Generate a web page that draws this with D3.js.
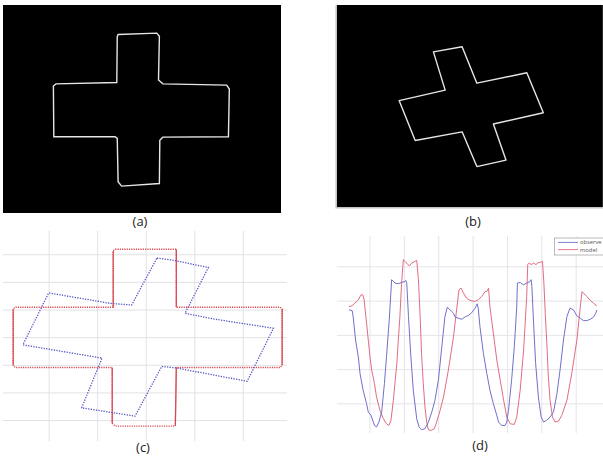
<!DOCTYPE html>
<html><head><meta charset="utf-8">
<script src="https://cdn.jsdelivr.net/npm/d3@7"></script>
<style>html,body{margin:0;padding:0;background:#fff;} svg{display:block}</style>
</head><body>
<svg id="fig" width="603" height="456"></svg>
<script>
// ---- (a), (b): edge images, coordinates in image pixels ----
const frameA = [640, 480];
const frameB = [612, 465];
const crossA = [[265,68],[354,65],[360,72],[358,173],[368,182],[515,185],[521,194],[519,304],[368,305],[361,312],[360,412],[273,418],[265,408],[263,308],[258,304],[117,304],[116,187],[122,182],[262,179],[263,73]];
const crossB = [[222,108],[288,96],[322,180],[437,156],[475,248],[360,274],[389,357],[322,372],[288,292],[180,312],[143,220],[249,196]];

// ---- (c): contour points, model (red) and observed (blue) ----
const gridCX = [100, 200, 300, 400, 500];
const gridCY = [50, 100, 150, 200, 250, 300, 350];
const modelContour = [[236,40],[362,40],[362,145],[576,145],[580,148],[580,250],[576,254],[362,254],[360,360],[236,360],[230,355],[230,254],[30,254],[26,250],[26,148],[30,145],[232,145],[232,43]];
const observedContour = [[322,56],[356,60],[428,73],[380,156],[438,166],[562,183],[508,279],[363,255],[332,252],[277,342],[167,327],[209,237],[46,213],[99,119],[226,138],[270,141]];

// ---- (d): signals over time ----
const gridDX = [100, 200, 300, 400, 500, 600, 700];
const gridDY = [20, 40, 60, 80, 100];
const seriesNames = ["observe", "model"];
const observeSeries = [[39,74.9],[48,74.5],[51,71.0],[58,57.3],[66,47.5],[71,37.7],[80,28.0],[90,20.1],[95,15.3],[103,13.3],[113,7.4],[119,6.5],[126,9.4],[134,15.3],[142,31.9],[148,47.5],[156,69.0],[163,92.5],[168,91.5],[173,90.5],[182,90.1],[192,90.9],[202,91.5],[204,92.1],[207,90.5],[212,71.0],[219,47.5],[226,28.0],[236,11.3],[243,6.5],[250,4.9],[260,5.5],[270,9.4],[280,15.3],[289,22.1],[299,33.8],[309,53.4],[318,71.0],[325,76.4],[333,74.9],[343,72.9],[348,70.6],[357,70.0],[367,69.4],[377,70.8],[386,71.6],[396,73.2],[406,75.9],[412,78.4],[415,75.9],[420,65.1],[430,49.5],[440,37.7],[449,28.0],[459,20.1],[469,13.3],[474,9.4],[483,7.4],[493,7.4],[498,9.4],[503,16.2],[512,33.8],[520,53.4],[527,76.8],[529,90.5],[537,90.9],[546,89.5],[556,90.5],[566,91.5],[569,92.5],[571,88.6],[576,67.1],[582,43.6],[590,24.0],[598,12.3],[605,9.4],[614,10.4],[624,12.3],[634,15.3],[644,26.0],[653,39.7],[663,57.3],[673,71.0],[682,75.9],[692,74.9],[702,71.4],[712,70.0],[721,68.6],[731,68.6],[741,69.4],[750,70.6],[757,72.9],[760,74.9]];
const modelSeries = [[39,76.8],[47,77.2],[56,78.8],[66,80.7],[74,83.7],[79,83.7],[83,80.7],[90,67.1],[95,57.3],[100,47.5],[105,39.7],[113,31.9],[119,24.1],[129,16.2],[139,11.3],[148,8.4],[155,7.4],[161,10.4],[168,22.1],[178,43.6],[187,71.0],[192,90.5],[197,104.2],[202,103.2],[210,101.3],[216,100.7],[221,102.2],[231,103.2],[236,103.8],[241,92.5],[246,71.0],[250,49.5],[255,31.9],[260,18.2],[265,9.4],[270,4.9],[278,4.5],[287,5.5],[294,9.4],[304,16.2],[314,24.0],[328,39.7],[343,59.2],[352,74.9],[359,86.6],[365,87.6],[372,84.7],[381,81.7],[391,80.4],[404,79.8],[415,80.7],[425,82.7],[435,85.6],[440,85.6],[445,87.6],[449,76.8],[459,61.2],[469,45.6],[479,33.8],[488,23.1],[498,12.3],[508,8.4],[520,8.0],[527,12.3],[537,28.0],[547,51.4],[556,82.7],[559,101.3],[563,102.2],[569,101.3],[576,102.2],[583,101.3],[588,102.2],[595,102.6],[602,103.2],[606,90.5],[610,72.9],[615,53.4],[619,35.8],[624,22.1],[631,12.3],[639,9.4],[649,10.0],[658,13.3],[673,22.1],[687,37.7],[702,57.3],[712,76.8],[717,85.6],[721,84.7],[731,82.7],[741,80.4],[750,78.8],[760,77.2]];

const panelLabels = ["(a)", "(b)", "(c)", "(d)"];

const svg = d3.select("#fig");
const font = "'Open Sans', 'DejaVu Sans', sans-serif";
const closed = d3.line().curve(d3.curveLinearClosed);

// ---------- (a) ----------
const ax = d3.scaleLinear().domain([0, frameA[0]]).range([3, 281]);
const ay = d3.scaleLinear().domain([0, frameA[1]]).range([5, 213]);
const gA = svg.append("g");
gA.append("rect").attr("x", ax(0)).attr("y", ay(0))
  .attr("width", ax(frameA[0]) - ax(0)).attr("height", ay(frameA[1]) - ay(0)).attr("fill", "#000");
gA.append("path").attr("d", closed(crossA.map(p => [ax(p[0]), ay(p[1])])))
  .attr("fill", "none").attr("stroke", "#e6e6e6").attr("stroke-width", 1.4);

// ---------- (b) ----------
const bx = d3.scaleLinear().domain([0, 640]).range([337, 615]);
const by = d3.scaleLinear().domain([0, 480]).range([5, 213.5]);
const gB = svg.append("g");
gB.append("rect").attr("x", bx(0)).attr("y", by(0))
  .attr("width", bx(frameB[0]) - bx(0)).attr("height", by(frameB[1]) - by(0)).attr("fill", "#000");
gB.append("path").attr("d", `M${bx(0) - 0.8},${by(0)}V${by(frameB[1]) + 0.8}H603`)
  .attr("fill", "none").attr("stroke", "#c4c4c4").attr("stroke-width", 1.5);
gB.append("path").attr("d", closed(crossB.map(p => [bx(p[0]), by(p[1])])))
  .attr("fill", "none").attr("stroke", "#e6e6e6").attr("stroke-width", 1.4).attr("stroke-linejoin", "round");

// ---------- (c) ----------
const cx = d3.scaleLinear().domain([5, 590]).range([3, 287]);
const cy = d3.scaleLinear().domain([7, 387]).range([231, 441]);
const gC = svg.append("g");
gC.selectAll("line.gx").data(gridCX).join("line")
  .attr("x1", d => cx(d)).attr("x2", d => cx(d)).attr("y1", cy(7)).attr("y2", cy(387))
  .attr("stroke", "#e2e2e6").attr("stroke-width", 1);
gC.selectAll("line.gy").data(gridCY).join("line")
  .attr("y1", d => cy(d)).attr("y2", d => cy(d)).attr("x1", cx(5)).attr("x2", cx(590))
  .attr("stroke", "#e2e2e6").attr("stroke-width", 1);
const modelPx = modelContour.map(p => [cx(p[0]), cy(p[1])]);
gC.append("path").attr("d", closed(modelPx))
  .attr("fill", "none").attr("stroke", "#d9474f").attr("stroke-width", 1.3).attr("stroke-dasharray", "1.2,1.1");
// vertical edges of the model contour read as continuous
modelPx.forEach((p, i) => {
  const q = modelPx[(i + 1) % modelPx.length];
  if (Math.abs(p[0] - q[0]) < 1 && Math.abs(p[1] - q[1]) > 10) {
    gC.append("line").attr("x1", p[0]).attr("y1", p[1]).attr("x2", q[0]).attr("y2", q[1])
      .attr("stroke", "#d9474f").attr("stroke-width", 1.2);
  }
});
gC.append("path").attr("d", closed(observedContour.map(p => [cx(p[0]), cy(p[1])])))
  .attr("fill", "none").attr("stroke", "#5555c4").attr("stroke-width", 1.3).attr("stroke-dasharray", "1.3,1.3");

// ---------- (d) ----------
const dx = d3.scaleLinear().domain([4, 778]).range([337, 603]);
const dy = d3.scaleLinear().domain([3, 118]).range([433, 236]);
const gD = svg.append("g");
gD.selectAll("line.gx").data(gridDX).join("line")
  .attr("x1", d => dx(d)).attr("x2", d => dx(d)).attr("y1", dy(118)).attr("y2", dy(3))
  .attr("stroke", "#e4e4ea").attr("stroke-width", 1);
gD.selectAll("line.gy").data(gridDY).join("line")
  .attr("y1", d => dy(d)).attr("y2", d => dy(d)).attr("x1", dx(4)).attr("x2", dx(778))
  .attr("stroke", "#e4e4ea").attr("stroke-width", 1);
const lineD = d3.line().x(d => dx(d[0])).y(d => dy(d[1]));
const colorsD = { observe: "#7070cc", model: "#e26c82" };
gD.append("path").datum(modelSeries).attr("d", lineD)
  .attr("fill", "none").attr("stroke", colorsD.model).attr("stroke-width", 1);
gD.append("path").datum(observeSeries).attr("d", lineD)
  .attr("fill", "none").attr("stroke", colorsD.observe).attr("stroke-width", 1);

// legend
const lg = gD.append("g");
lg.append("rect").attr("x", 554.5).attr("y", 238).attr("width", 60).attr("height", 17)
  .attr("fill", "#fff").attr("stroke", "#a8a8a8").attr("stroke-width", 0.8);
seriesNames.forEach((name, i) => {
  const yy = 242.4 + i * 7.2;
  lg.append("line").attr("x1", 558).attr("x2", 578).attr("y1", yy).attr("y2", yy)
    .attr("stroke", colorsD[name]).attr("stroke-width", 0.9);
  lg.append("text").attr("x", 580).attr("y", yy + 2).text(name)
    .attr("font-family", font).attr("font-size", 5.8).attr("fill", "#555");
});

// ---------- panel labels ----------
const labelPos = [[140, 226], [473, 226], [143, 452], [480, 450]];
svg.selectAll("text.lbl").data(panelLabels).join("text")
  .attr("class", "lbl")
  .attr("x", (d, i) => labelPos[i][0]).attr("y", (d, i) => labelPos[i][1])
  .attr("text-anchor", "middle").attr("font-family", font).attr("font-size", 13)
  .attr("fill", "#222").text(d => d);
</script>
</body></html>
